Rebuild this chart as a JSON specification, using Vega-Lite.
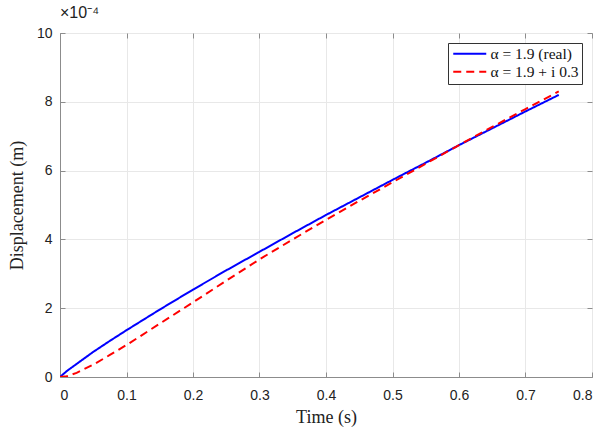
{
  "$schema": "https://vega.github.io/schema/vega-lite/v6.json",
  "autosize": "none",
  "width": 532,
  "height": 344,
  "padding": {"left": 60, "top": 33, "right": 20, "bottom": 60},
  "background": "white",
  "title": {
    "text": "×10⁻⁴",
    "anchor": "start",
    "frame": "group",
    "font": "Liberation Sans",
    "fontSize": 16,
    "fontWeight": "normal",
    "color": "#222",
    "offset": 5
  },
  "data": {
    "values": [
      {"t": 0, "d": 0, "series": "α = 1.9 (real)"},
      {"t": 0.01, "d": 0.000017, "series": "α = 1.9 (real)"},
      {"t": 0.025, "d": 0.000038, "series": "α = 1.9 (real)"},
      {"t": 0.05, "d": 0.000073, "series": "α = 1.9 (real)"},
      {"t": 0.075, "d": 0.000105, "series": "α = 1.9 (real)"},
      {"t": 0.1, "d": 0.000136, "series": "α = 1.9 (real)"},
      {"t": 0.15, "d": 0.000196, "series": "α = 1.9 (real)"},
      {"t": 0.2, "d": 0.000254, "series": "α = 1.9 (real)"},
      {"t": 0.25, "d": 0.00031, "series": "α = 1.9 (real)"},
      {"t": 0.3, "d": 0.000364, "series": "α = 1.9 (real)"},
      {"t": 0.35, "d": 0.000418, "series": "α = 1.9 (real)"},
      {"t": 0.4, "d": 0.000471, "series": "α = 1.9 (real)"},
      {"t": 0.45, "d": 0.000522, "series": "α = 1.9 (real)"},
      {"t": 0.5, "d": 0.000573, "series": "α = 1.9 (real)"},
      {"t": 0.55, "d": 0.000623, "series": "α = 1.9 (real)"},
      {"t": 0.6, "d": 0.000674, "series": "α = 1.9 (real)"},
      {"t": 0.65, "d": 0.000723, "series": "α = 1.9 (real)"},
      {"t": 0.7, "d": 0.000772, "series": "α = 1.9 (real)"},
      {"t": 0.75, "d": 0.00082, "series": "α = 1.9 (real)"},
      {"t": 0, "d": 0, "series": "α = 1.9 + i 0.3"},
      {"t": 0.01, "d": 0.000002, "series": "α = 1.9 + i 0.3"},
      {"t": 0.025, "d": 0.000012, "series": "α = 1.9 + i 0.3"},
      {"t": 0.05, "d": 0.000036, "series": "α = 1.9 + i 0.3"},
      {"t": 0.075, "d": 0.000064, "series": "α = 1.9 + i 0.3"},
      {"t": 0.1, "d": 0.000093, "series": "α = 1.9 + i 0.3"},
      {"t": 0.15, "d": 0.000155, "series": "α = 1.9 + i 0.3"},
      {"t": 0.2, "d": 0.000217, "series": "α = 1.9 + i 0.3"},
      {"t": 0.25, "d": 0.00028, "series": "α = 1.9 + i 0.3"},
      {"t": 0.3, "d": 0.000342, "series": "α = 1.9 + i 0.3"},
      {"t": 0.35, "d": 0.0004, "series": "α = 1.9 + i 0.3"},
      {"t": 0.4, "d": 0.000457, "series": "α = 1.9 + i 0.3"},
      {"t": 0.45, "d": 0.000512, "series": "α = 1.9 + i 0.3"},
      {"t": 0.5, "d": 0.000566, "series": "α = 1.9 + i 0.3"},
      {"t": 0.55, "d": 0.00062, "series": "α = 1.9 + i 0.3"},
      {"t": 0.6, "d": 0.000674, "series": "α = 1.9 + i 0.3"},
      {"t": 0.65, "d": 0.000727, "series": "α = 1.9 + i 0.3"},
      {"t": 0.7, "d": 0.000779, "series": "α = 1.9 + i 0.3"},
      {"t": 0.75, "d": 0.00083, "series": "α = 1.9 + i 0.3"}
    ]
  },
  "layer": [
    {
      "mark": {"type": "line", "strokeWidth": 2, "clip": true},
      "encoding": {
        "x": {
          "field": "t",
          "type": "quantitative",
          "title": "Time (s)",
          "scale": {"domain": [0, 0.8], "nice": false},
          "axis": {
            "values": [0, 0.1, 0.2, 0.3, 0.4, 0.5, 0.6, 0.7, 0.8],
            "format": "~g",
            "orient": "bottom",
            "labelPadding": 16,
            "titlePadding": 6
          }
        },
        "y": {
          "field": "d",
          "type": "quantitative",
          "title": "Displacement (m)",
          "scale": {"domain": [0, 0.001], "nice": false},
          "axis": {
            "values": [0, 0.0002, 0.0004, 0.0006, 0.0008, 0.001],
            "labelExpr": "format(datum.value * 10000, 'd')",
            "orient": "left",
            "labelPadding": 13,
            "titlePadding": 10
          }
        },
        "color": {
          "field": "series",
          "type": "nominal",
          "title": null,
          "scale": {"domain": ["α = 1.9 (real)", "α = 1.9 + i 0.3"], "range": ["#0000ff", "#ff0000"]},
          "legend": {
            "orient": "top-right",
            "offset": 10,
            "strokeColor": "#333",
            "fillColor": "white",
            "padding": 3,
            "symbolType": "M-1,0H5",
            "symbolSize": 121,
            "symbolStrokeWidth": 2,
            "labelFont": "Liberation Serif",
            "labelFontSize": 15.5,
            "labelColor": "#111",
            "labelOffset": 24,
            "rowPadding": 1
          }
        },
        "strokeDash": {
          "field": "series",
          "type": "nominal",
          "title": null,
          "scale": {"domain": ["α = 1.9 (real)", "α = 1.9 + i 0.3"], "range": [[1, 0], [8, 5]]}
        }
      }
    },
    {
      "mark": {"type": "point", "opacity": 0},
      "encoding": {
        "x": {
          "field": "t",
          "type": "quantitative",
          "axis": {"orient": "top", "labels": false, "title": null, "grid": false, "domain": false,
                   "values": [0, 0.1, 0.2, 0.3, 0.4, 0.5, 0.6, 0.7, 0.8]}
        },
        "y": {
          "field": "d",
          "type": "quantitative",
          "axis": {"orient": "right", "labels": false, "title": null, "grid": false, "domain": false,
                   "values": [0, 0.0002, 0.0004, 0.0006, 0.0008, 0.001]}
        }
      }
    }
  ],
  "resolve": {"axis": {"x": "independent", "y": "independent"}},
  "config": {
    "view": {"stroke": "#8c8c8c", "strokeWidth": 1},
    "axis": {
      "labelFont": "Liberation Sans",
      "labelFontSize": 14,
      "labelColor": "#222",
      "titleFont": "Liberation Serif",
      "titleFontSize": 18,
      "titleFontWeight": "normal",
      "titleColor": "#222",
      "domainColor": "#8c8c8c",
      "tickColor": "#8c8c8c",
      "tickSize": -5,
      "gridColor": "#e8e8e8",
      "gridWidth": 1
    }
  }
}
